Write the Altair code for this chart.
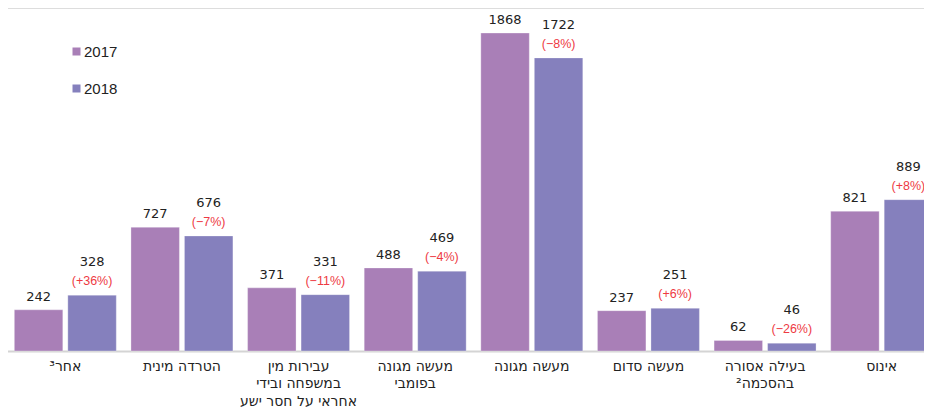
import altair as alt
import pandas as pd

categories = [
    "אחר³",
    "הטרדה מינית",
    "עבירות מין\nבמשפחה ובידי\nאחראי על חסר ישע",
    "מעשה מגונה\nבפומבי",
    "מעשה מגונה",
    "מעשה סדום",
    "בעילה אסורה\nבהסכמה²",
    "אינוס",
]
values_2017 = [242, 727, 371, 488, 1868, 237, 62, 821]
values_2018 = [328, 676, 331, 469, 1722, 251, 46, 889]
pct_change = ["(+36%)", "(−7%)", "(−11%)", "(−4%)", "(−8%)", "(+6%)", "(−26%)", "(+8%)"]
years = ["2017", "2018"]
colors = ["#A97FB7", "#8580BD"]

rows = []
for i, c in enumerate(categories):
    rows.append({"cat": c, "year": "2017", "value": values_2017[i], "pct": ""})
    rows.append({"cat": c, "year": "2018", "value": values_2018[i], "pct": pct_change[i]})
df = pd.DataFrame(rows)

FONT = "DejaVu Sans"
FONT2 = "Liberation Sans"

x_enc = alt.X(
    "cat:N",
    sort=categories,
    title=None,
    scale=alt.Scale(paddingInner=0, paddingOuter=0),
    axis=alt.Axis(
        labelAngle=0,
        labelExpr="split(datum.label, '\\n')",
        labelFont=FONT,
        labelFontSize=14,
        labelColor="#222222",
        labelPadding=8,
        labelLineHeight=17.5,
        labelBaseline="top",
        ticks=False,
        domainColor="#d4d4d4",
        domainWidth=2,
        labelLimit=200,
    ),
)
xoff = alt.XOffset(
    "year:N", sort=years, scale=alt.Scale(paddingInner=0.094, paddingOuter=0.137)
)
y_enc = alt.Y(
    "value:Q",
    scale=alt.Scale(domain=[0, 2015], nice=False),
    axis=None,
)

base = alt.Chart(df)

bars = base.mark_bar(stroke="#ffffff", strokeOpacity=0.5, strokeWidth=0.6).encode(
    x=x_enc,
    xOffset=xoff,
    y=y_enc,
    color=alt.Color(
        "year:N",
        sort=years,
        scale=alt.Scale(domain=years, range=colors),
        legend=alt.Legend(
            title=None,
            orient="none",
            legendX=62,
            legendY=36,
            symbolType="square",
            symbolSize=64,
            symbolStrokeWidth=0,
            labelFont=FONT2,
            labelFontSize=15,
            labelColor="#222222",
            labelOffset=0,
            rowPadding=21,
            padding=0,
        ),
    ),
)

num_2017 = base.transform_filter(alt.datum.year == "2017").mark_text(
    font=FONT, fontSize=13, color="#222222", baseline="alphabetic", dy=-9
).encode(x=x_enc, xOffset=xoff, y=y_enc, text="value:Q")

num_2018 = base.transform_filter(alt.datum.year == "2018").mark_text(
    font=FONT, fontSize=13, color="#222222", baseline="alphabetic", dy=-29
).encode(x=x_enc, xOffset=xoff, y=y_enc, text="value:Q")

pct_2018 = base.transform_filter(alt.datum.year == "2018").mark_text(
    font=FONT2, fontSize=12.5, color="#EE3A43", baseline="alphabetic", dy=-10
).encode(x=x_enc, xOffset=xoff, y=y_enc, text="pct:N")

chart = (
    alt.layer(bars, num_2017, num_2018, pct_2018)
    .properties(
        width=933,
        height=343,
        padding={"left": -1, "top": 0, "right": -16, "bottom": 0},
    )
    .configure_view(strokeWidth=0, stroke="transparent")
    .configure(background="#ffffff")
)

chart.save("out.html", embed_options={"renderer": "svg", "actions": False})
